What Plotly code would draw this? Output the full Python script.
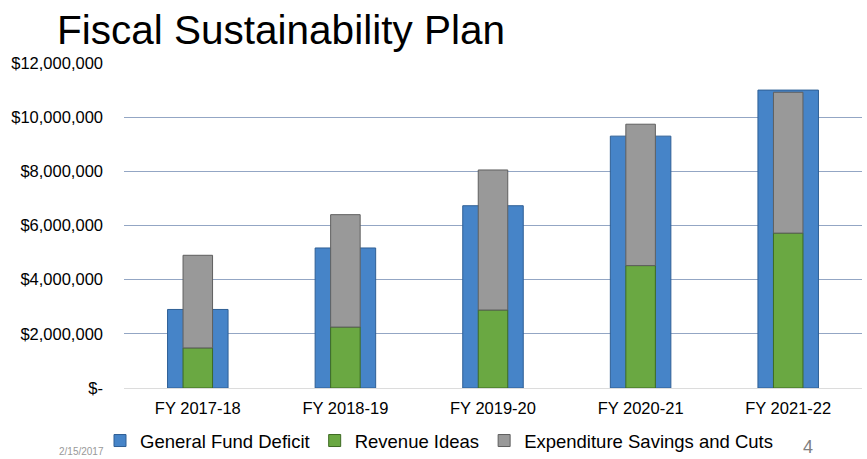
import plotly.graph_objects as go

categories = ["FY 2017-18", "FY 2018-19", "FY 2019-20", "FY 2020-21", "FY 2021-22"]
general_fund_deficit = [2900000, 5170000, 6730000, 9300000, 11000000]
revenue_ideas = [1480000, 2250000, 2880000, 4520000, 5720000]
expenditure_savings = [3420000, 4150000, 5170000, 5220000, 5200000]

tick_vals = [0, 2000000, 4000000, 6000000, 8000000, 10000000, 12000000]
tick_text = ["$-", "$2,000,000", "$4,000,000", "$6,000,000", "$8,000,000", "$10,000,000", "$12,000,000"]

FONT = "Liberation Sans, Arial, sans-serif"

fig = go.Figure()
fig.add_trace(go.Bar(
    name="General Fund Deficit", x=categories, y=general_fund_deficit,
    width=0.41, marker=dict(color="#4684c8", line=dict(color="#2f5f95", width=1)),
))
fig.add_trace(go.Bar(
    name="Revenue Ideas", x=categories, y=revenue_ideas,
    width=0.2, marker=dict(color="#6aa842", line=dict(color="#3d6a22", width=1)),
))
fig.add_trace(go.Bar(
    name="Expenditure Savings and Cuts", x=categories, y=expenditure_savings,
    base=revenue_ideas,
    width=0.2, marker=dict(color="#999999", line=dict(color="#5f5f5f", width=1)),
))

fig.update_layout(
    width=867, height=459,
    margin=dict(l=124, r=5, t=63, b=71, autoexpand=False),
    barmode="overlay",
    plot_bgcolor="white", paper_bgcolor="white",
    font=dict(family=FONT, color="black", size=16.5),
    title=dict(text="Fiscal Sustainability Plan", x=57/867, xanchor="left",
               y=1 - 30/459, yanchor="middle",
               font=dict(family=FONT, size=40.5, color="black")),
    showlegend=True,
    legend=dict(orientation="h", xref="container", x=100/867, xanchor="left",
                yref="container", y=1 - 441/459, yanchor="middle",
                font=dict(family=FONT, size=18.5, color="black"),
                traceorder="normal", itemwidth=30, bgcolor="rgba(0,0,0,0)"),
    xaxis=dict(showgrid=False, showline=True, linecolor="#dcdcdc", linewidth=1,
               ticks="", ticklabelstandoff=5, tickfont=dict(size=16.5)),
    yaxis=dict(range=[0, 12000000], tickvals=tick_vals, ticktext=tick_text,
               showgrid=True, gridcolor="#93a6c4", gridwidth=1, zeroline=False,
               showline=False, ticks="", ticklabelstandoff=20,
               tickfont=dict(size=16.5)),
)

fig.add_annotation(text="2/15/2017", xref="paper", yref="paper",
                   x=(106 - 124) / 738, xanchor="right",
                   y=(388 - 459) / 325, yanchor="bottom", showarrow=False,
                   font=dict(family=FONT, size=10, color="#999999"))
fig.add_annotation(text="4", xref="paper", yref="paper",
                   x=(808 - 124) / 738, xanchor="center",
                   y=(388 - 459) / 325, yanchor="bottom", showarrow=False,
                   font=dict(family=FONT, size=18, color="#808080"))

fig.write_html("out.html")
